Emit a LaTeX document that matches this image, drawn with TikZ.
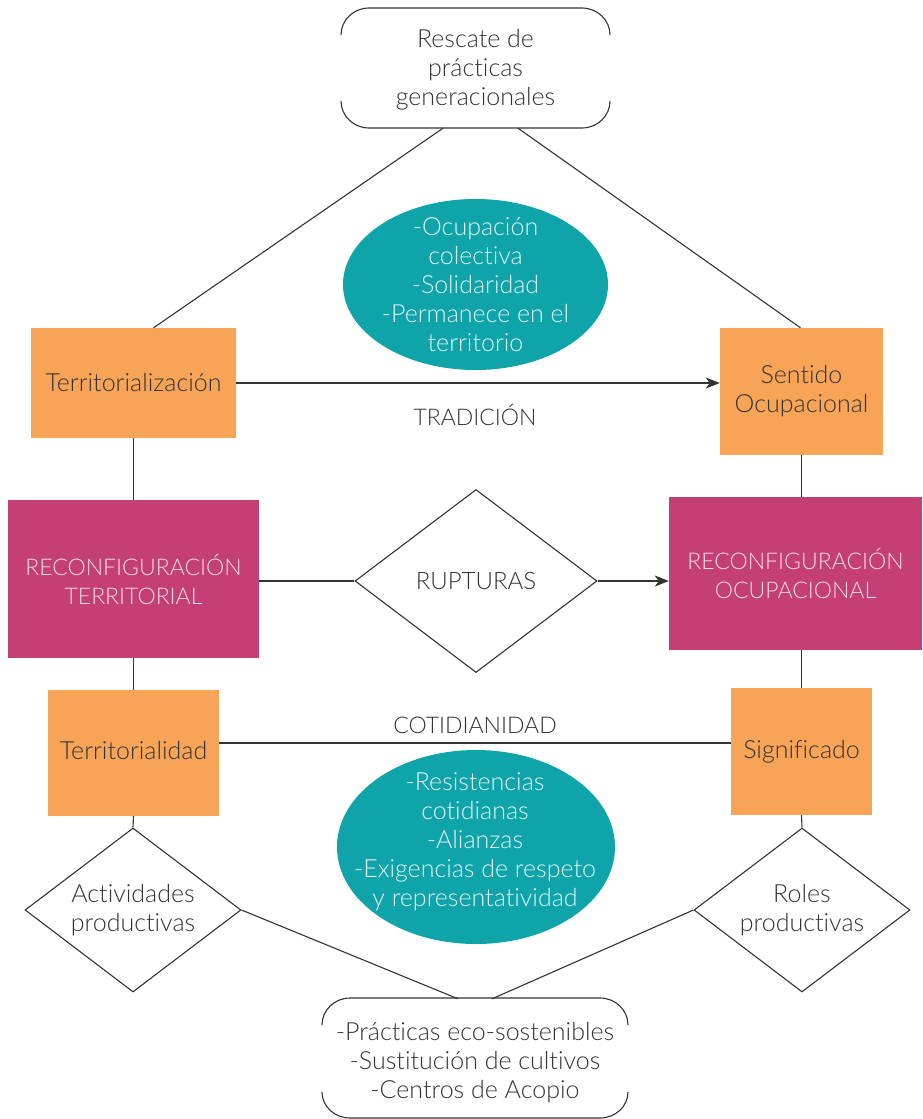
\documentclass[tikz,border=0pt]{standalone}
\usepackage{fontspec}
\setmainfont{Lato}[UprightFont={* Light},Ligatures=NoCommon]
\usetikzlibrary{shapes.geometric,arrows.meta,calc}
\definecolor{orng}{HTML}{F7A456}
\definecolor{pnk}{HTML}{C43F74}
\definecolor{teal2}{HTML}{0FA4A9}
\definecolor{ink}{HTML}{333333}
\definecolor{txt}{HTML}{333333}
\definecolor{pnktxt}{HTML}{FAD9E7}
\definecolor{tealtxt}{HTML}{E2F6F6}
\tikzset{
  base/.style={inner sep=0pt, align=center, font=\fontsize{25}{29}\selectfont},
  caps/.style={font=\fontsize{23}{29}\selectfont},
  obox/.style={base, rectangle, fill=orng, text=txt},
  pbox/.style={base, caps, rectangle, fill=pnk, text=pnktxt},
  tell/.style={base, ellipse, inner sep=-45pt, fill=teal2, text=tealtxt},
  dia/.style={base, diamond, inner sep=-30pt, draw=ink, line width=1.1pt, fill=white, text=txt},
  lbl/.style={base, text=txt},
  conn/.style={draw=ink, line width=1.1pt},
  arr/.style={conn, -{Stealth[length=14pt,width=11pt,inset=4pt]}},
  rbord/.style={draw=ink, line width=1.1pt}
}
\begin{document}
\begin{tikzpicture}[x=1pt,y=-1pt]
\useasboundingbox (0,0) rectangle (922,1119);
% nodes
\node[lbl, minimum width=269pt, minimum height=116pt] (top) at (475.5,70) {Rescate de\\prácticas\\generacionales};
\node[obox, minimum width=205pt, minimum height=110pt] (terr) at (133.5,383) {Territorialización};
\node[obox, minimum width=163pt, minimum height=127pt] (sent) at (801.5,391.5) {Sentido\\Ocupacional};
\node[tell, minimum width=265pt, minimum height=171pt] (ell1) at (475.5,284.5) {-Ocupación\\colectiva\\-Solidaridad\\-Permanece en el\\territorio};
\node[lbl, caps] (trad) at (475,415) {TRADICIÓN};
\node[pbox, minimum width=251pt, minimum height=158pt] (rt) at (133.5,579) {RECONFIGURACIÓN\\TERRITORIAL};
\node[pbox, minimum width=253pt, minimum height=153pt] (ro) at (795.5,573.5) {RECONFIGURACIÓN\\OCUPACIONAL};
\node[dia, font=\fontsize{24}{29}\selectfont, minimum width=242pt, minimum height=183pt] (rup) at (476,581) {RUPTURAS};
\node[obox, minimum width=171pt, minimum height=126pt] (tdad) at (133.5,753) {\raisebox{6pt}{Territorialidad}};
\node[obox, minimum width=141pt, minimum height=127pt] (sig) at (801.5,751.5) {\raisebox{5pt}{Significado}};
\node[lbl, caps] (coti) at (475,725) {COTIDIANIDAD};
\node[tell, minimum width=278pt, minimum height=194pt] (ell2) at (476,847) {};
\node[base, text=tealtxt] (ell2t) at (475,842) {-Resistencias\\cotidianas\\-Alianzas\\-Exigencias de respeto\\y representatividad};
\node[dia, minimum width=216pt, minimum height=164pt] (act) at (133,910) {Actividades\\productivas};
\node[dia, minimum width=216pt, minimum height=164pt] (roles) at (802,910) {Roles\\productivas};
\node[lbl, minimum width=306pt, minimum height=128pt] (bot) at (475,1063) {-Prácticas eco-sostenibles\\-Sustitución de cultivos\\-Centros de Acopio};
% rounded partial borders
\draw[rbord] (341,35) arc[start angle=180,end angle=90,x radius=28pt,y radius=27pt] -- (582,8) arc[start angle=90,end angle=0,x radius=28pt,y radius=27pt];
\draw[rbord] (341,101) arc[start angle=180,end angle=270,x radius=28pt,y radius=27pt] -- (582,128) arc[start angle=270,end angle=360,x radius=28pt,y radius=27pt];
\draw[rbord] (322,1025) arc[start angle=180,end angle=90,x radius=28pt,y radius=27pt] -- (600,998) arc[start angle=90,end angle=0,x radius=28pt,y radius=27pt];
\draw[rbord] (322,1092) arc[start angle=180,end angle=270,x radius=28pt,y radius=26pt] -- (600,1118) arc[start angle=270,end angle=360,x radius=28pt,y radius=26pt];
% connectors
\draw[conn] ($(top.south)+(-32.5,0)$) -- ($(terr.north)+(20,0)$);
\draw[conn] ($(top.south)+(42.5,0)$) -- ($(sent.north)+(-1,0)$);
\draw[arr] (terr.east) -- (terr.east -| sent.west);
\draw[conn] (terr.south) -- (rt.north);
\draw[conn] (sent.south) -- (sent.south |- ro.north);
\draw[conn] (rup.west -| rt.east) -- (rup.west);
\draw[arr] (rup.east) -- (rup.east -| ro.west);
\draw[conn] (rt.south) -- (tdad.north);
\draw[conn] (sig.north |- ro.south) -- (sig.north);
\draw[conn] ($(tdad.east)+(0,-10)$) coordinate (c1) -- (c1 -| sig.west);
\draw[conn] (tdad.south) -- (act.north);
\draw[conn] (sig.south) -- (roles.north);
\draw[conn] (act.east) -- ($(bot.north)+(-17,0)$);
\draw[conn] (roles.west) -- ($(bot.north)+(17,0)$);
\end{tikzpicture}
\end{document}
